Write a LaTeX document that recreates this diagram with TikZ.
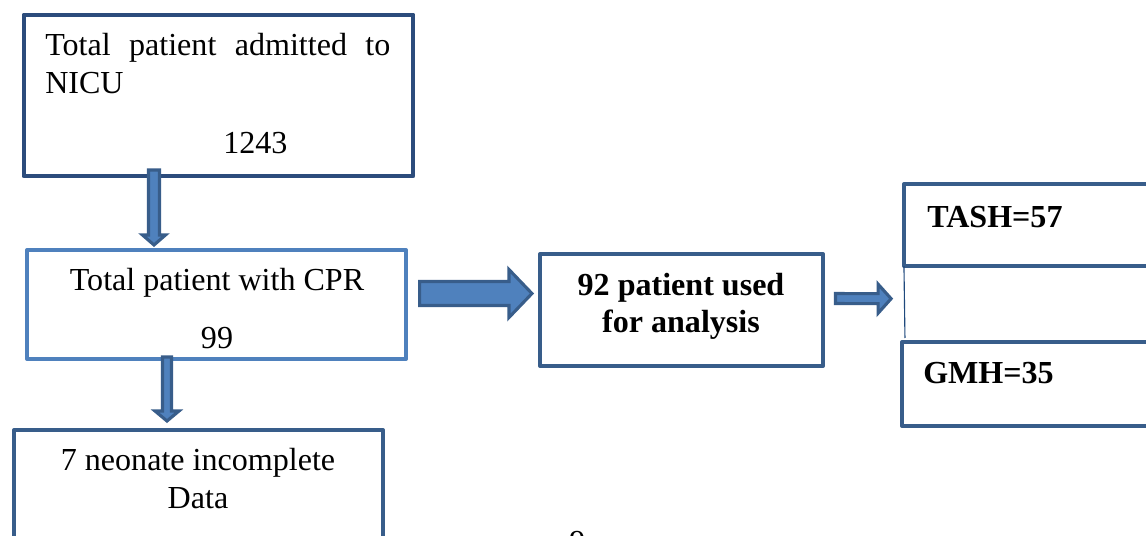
\documentclass[tikz,border=0pt]{standalone}
\usepackage{fontspec}
\setmainfont{Liberation Serif}
\usetikzlibrary{calc}
\definecolor{boxblue}{HTML}{385D8A}
\definecolor{darkblue}{HTML}{2C4C7C}
\definecolor{lightblue}{HTML}{4F81BD}
\definecolor{lineblue}{HTML}{1F497D}

\begin{document}
\begin{tikzpicture}[x=0.025cm,y=-0.025cm,
  box/.style={draw=boxblue,line width=2.8pt,line join=round,inner sep=0pt,outer sep=0pt},
  txt/.style={inner sep=0pt,font=\fontsize{22.8}{27}\selectfont},
  blockarrow/.style={draw=boxblue,fill=lightblue,line width=2.2pt,line join=miter}]
			  \path[use as bounding box,clip] (0,0) rectangle (1146,535);
			  \fill[white] (0,0) rectangle (1146,535);
			  %BOXES
			  \node[box,draw=darkblue,line width=3.4pt,minimum width=9.725cm,minimum height=4.025cm] (A) at (218.5,95.5) {};
			  \node[box,draw=lightblue,minimum width=9.475cm,minimum height=2.725cm] (B) at (216.5,304.5) {};
			  \node[box,minimum width=9.225cm,minimum height=3.25cm] (C) at (198.5,495) {};
			  \node[box,minimum width=7.075cm,minimum height=2.8cm] (D) at (681.5,310) {};
			  \node[box,minimum width=7.4cm,minimum height=2.05cm] (E) at (1052,225) {};
			  \node[box,minimum width=7.45cm,minimum height=2.1cm] (F) at (1051,384) {};
			  %TEXTS
			  \node[txt,anchor=base west] (tA1) at (45,55) {\makebox[8.625cm][s]{Total patient admitted to}};
			  \node[txt,anchor=base west] (tA2) at (45,93) {NICU};
			  \node[txt,anchor=base west] (tA3) at (223,153) {1243};
			  \node[txt,anchor=base] (tB1) at (217,290) {Total patient with CPR};
			  \node[txt,anchor=base] (tB2) at (217,348) {99};
			  \node[txt,anchor=base] (tC1) at (198,470) {7 neonate incomplete};
			  \node[txt,anchor=base] (tC2) at (198,508) {Data};
			  \node[txt,font=\fontsize{22.8}{27}\selectfont\bfseries,anchor=base] (tD1) at (681,295) {92 patient used};
			  \node[txt,font=\fontsize{22.8}{27}\selectfont\bfseries,anchor=base] (tD2) at (681,332) {for analysis};
			  \node[txt,font=\fontsize{22.8}{27}\selectfont\bfseries,anchor=base west] (tE) at (927,227) {TASH=57};
			  \node[txt,font=\fontsize{22.8}{27}\selectfont\bfseries,anchor=base west] (tF) at (923,383) {GMH=35};
			  \node[txt,anchor=base west] (pg) at (569,552) {9};
			  %LINE E-F
			  \draw[lineblue,line width=0.8pt] (E.south west) -- ($(F.north west)+(3,-4)$);
			  %ARROW A-B
			  \coordinate (s1) at ($(A.south)+(-64.5,-6)$);
			  \coordinate (t1) at ($(B.north)+(-62.5,-5)$);
			  \draw[blockarrow] ($(s1)+(-5.5,0)$) -- ($(t1)+(-5.5,-10)$) -- ($(t1)+(-11.5,-10)$) -- (t1)
			      -- ($(t1)+(11.5,-10)$) -- ($(t1)+(5.5,-10)$) -- ($(s1)+(5.5,0)$) -- cycle;
			  %ARROW B-C
			  \coordinate (s2) at ($(B.south)+(-49.5,-2)$);
			  \coordinate (t2) at ($(C.north)+(-31.5,-9)$);
			  \draw[blockarrow] ($(s2)+(-4.5,0)$) -- ($(t2)+(-4.5,-10)$) -- ($(t2)+(-12,-10)$) -- (t2)
			      -- ($(t2)+(12,-10)$) -- ($(t2)+(4.5,-10)$) -- ($(s2)+(4.5,0)$) -- cycle;
			  %ARROW B-D
			  \coordinate (s3) at ($(B.east)+(13.5,-11)$);
			  \coordinate (t3) at ($(D.west)+(-8,-16.5)$);
			  \draw[blockarrow] ($(s3)+(0,-12)$) -- ($(t3)+(-23,-12)$) -- ($(t3)+(-23,-24)$) -- (t3)
			      -- ($(t3)+(-23,24)$) -- ($(t3)+(-23,12)$) -- ($(s3)+(0,12)$) -- cycle;
			  %ARROW D-(E,F)
			  \coordinate (s4) at ($(D.east)+(12.5,-11.5)$);
			  \coordinate (t4) at ($($(E.south west)!0.43!(F.north west)$)+(-12,0)$);
			  \draw[blockarrow] ($(s4)+(0,-5)$) -- ($(t4)+(-13,-5)$) -- ($(t4)+(-13,-14.5)$) -- (t4)
			      -- ($(t4)+(-13,14.5)$) -- ($(t4)+(-13,5)$) -- ($(s4)+(0,5)$) -- cycle;
\end{tikzpicture}
\end{document}
